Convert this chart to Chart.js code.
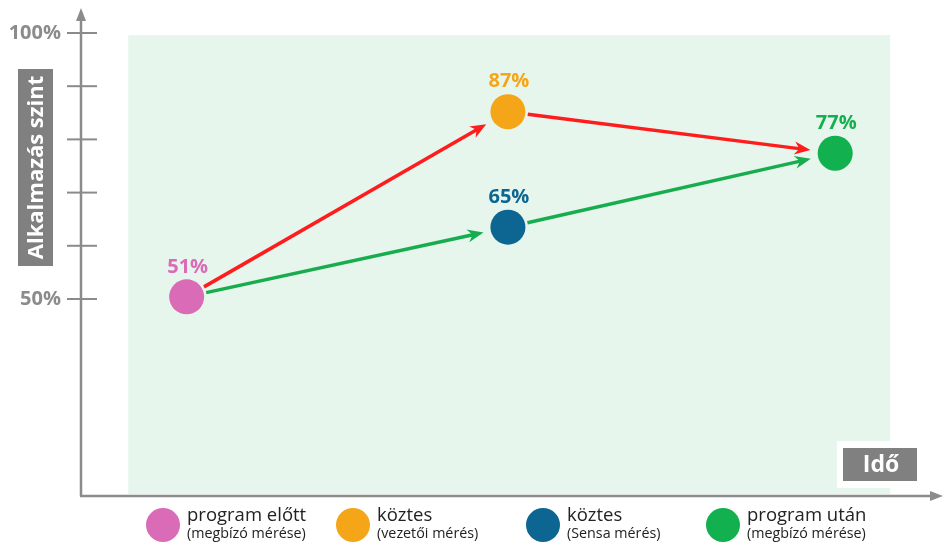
<!DOCTYPE html>
<html>
<head>
<meta charset="utf-8">
<script src="https://cdn.jsdelivr.net/npm/chart.js@4.4.1/dist/chart.umd.min.js"></script>
<style>
	html, body { margin: 0; padding: 0; background: #fff; }
	#wrap { width: 948px; height: 542px; }
</style>
</head>
<body>
<div id="wrap"><canvas id="levelChart" width="948" height="542"></canvas></div>
<script>
var pointTimes = [12.3, 49.7, 49.7, 87.8];
var pointLevels = [50.4, 85.2, 63.5, 77.4];
var pointLabels = ['51%', '87%', '65%', '77%'];
var pointColors = ['#d96bb7', '#f5a518', '#0d6591', '#12b04f'];

var legendTitles = ['program előtt', 'köztes', 'köztes', 'program után'];
var legendNotes = ['(megbízó mérése)', '(vezetői mérés)', '(Sensa mérés)', '(megbízó mérése)'];

var redArrows = [[0, 1], [1, 3]];
var greenArrows = [[0, 2], [2, 3]];

var yTickValues = [100, 90, 80, 70, 60, 50];
var yTickLabels = ['100%', '', '', '', '', '50%'];

var yTitle = 'Alkalmazás szint';
var xTitle = 'Idő';

var FONT = '"Open Sans", "DejaVu Sans", sans-serif';
var AXIS_GREY = '#8b8b8b';

function drawArrow(ctx, a, b, color, startGap, endGap) {
	var dx = b.x - a.x, dy = b.y - a.y;
	var len = Math.sqrt(dx * dx + dy * dy);
	var ux = dx / len, uy = dy / len;
	var nx = -uy, ny = ux;
	var sx = a.x + ux * startGap, sy = a.y + uy * startGap;
	var tx = b.x - ux * endGap, ty = b.y - uy * endGap;
	var head = 16, half = 6.5;
	ctx.save();
	ctx.strokeStyle = color;
	ctx.fillStyle = color;
	ctx.lineWidth = 3.5;
	ctx.beginPath();
	ctx.moveTo(sx, sy);
	ctx.lineTo(tx - ux * head * 0.6, ty - uy * head * 0.6);
	ctx.stroke();
	ctx.beginPath();
	ctx.moveTo(tx, ty);
	ctx.lineTo(tx - ux * head + nx * half, ty - uy * head + ny * half);
	ctx.lineTo(tx - ux * head * 0.7, ty - uy * head * 0.7);
	ctx.lineTo(tx - ux * head - nx * half, ty - uy * head - ny * half);
	ctx.closePath();
	ctx.fill();
	ctx.restore();
}

var schemePlugin = {
	id: 'scheme',
	beforeDatasetsDraw: function(chart) {
		var ctx = chart.ctx;
		var xs = chart.scales.x, ys = chart.scales.y;
		var area = chart.chartArea;

		// pale green plot field
		var left = xs.getPixelForValue(5.5), right = xs.getPixelForValue(94.2);
		var top = ys.getPixelForValue(99.6), bottom = ys.getPixelForValue(13.3);
		ctx.save();
		ctx.fillStyle = '#e7f6ed';
		ctx.fillRect(left, top, right - left, bottom - top);

		// box for the x title
		ctx.fillStyle = '#ffffff';
		ctx.fillRect(837, 441, 90, 47);
		ctx.fillStyle = '#808080';
		ctx.fillRect(843, 448, 74, 33);
		ctx.fillStyle = '#ffffff';
		ctx.font = 'bold 23px ' + FONT;
		ctx.textAlign = 'center';
		ctx.textBaseline = 'middle';
		ctx.fillText(xTitle, 881, 465);

		// y title box
		ctx.fillStyle = '#808080';
		ctx.fillRect(18, 69, 35, 197);
		ctx.translate(35.5, 167.5);
		ctx.rotate(-Math.PI / 2);
		ctx.fillStyle = '#ffffff';
		ctx.font = 'bold 22px ' + FONT;
		ctx.fillText(yTitle, 0, 1);
		ctx.restore();

		// axes
		var ax = area.left, ay = area.bottom;
		ctx.save();
		ctx.strokeStyle = AXIS_GREY;
		ctx.fillStyle = AXIS_GREY;
		ctx.lineWidth = 2.5;
		ctx.beginPath();
		ctx.moveTo(ax, ay);
		ctx.lineTo(ax, area.top + 8);
		ctx.moveTo(ax - 1, ay);
		ctx.lineTo(area.right - 8, ay);
		ctx.stroke();
		ctx.beginPath();
		ctx.moveTo(ax, area.top - 2);
		ctx.lineTo(ax - 5, area.top + 11);
		ctx.lineTo(ax + 5, area.top + 11);
		ctx.closePath();
		ctx.fill();
		ctx.beginPath();
		ctx.moveTo(area.right + 3, ay);
		ctx.lineTo(area.right - 10, ay - 5);
		ctx.lineTo(area.right - 10, ay + 5);
		ctx.closePath();
		ctx.fill();

		ctx.lineWidth = 2;
		ctx.font = 'bold 20px ' + FONT;
		ctx.textAlign = 'right';
		ctx.textBaseline = 'middle';
		yTickValues.forEach(function(v, i) {
			var py = ys.getPixelForValue(v);
			ctx.beginPath();
			ctx.moveTo(ax - 14, py);
			ctx.lineTo(ax + 16, py);
			ctx.stroke();
			if (yTickLabels[i]) {
				ctx.fillText(yTickLabels[i], ax - 20, py);
			}
		});
		ctx.restore();

		// arrows between measurements
		var pts = chart.getDatasetMeta(0).data;
		redArrows.forEach(function(p) {
			drawArrow(ctx, pts[p[0]], pts[p[1]], '#ff1c1c', 20, 25);
		});
		greenArrows.forEach(function(p) {
			drawArrow(ctx, pts[p[0]], pts[p[1]], '#17ad4e', 20, 25);
		});
	},
	afterDatasetsDraw: function(chart) {
		var ctx = chart.ctx;
		var pts = chart.getDatasetMeta(0).data;
		ctx.save();
		ctx.font = 'bold 20px ' + FONT;
		ctx.textAlign = 'center';
		ctx.textBaseline = 'middle';
		pts.forEach(function(pt, i) {
			ctx.fillStyle = pointColors[i];
			ctx.fillText(pointLabels[i], pt.x + 1, pt.y - 30);
		});
		ctx.restore();
	},
	afterDraw: function(chart) {
		var ctx = chart.ctx;
		var legendX = [163, 353, 543, 723];
		ctx.save();
		legendTitles.forEach(function(title, i) {
			var cx = legendX[i];
			ctx.fillStyle = pointColors[i];
			ctx.beginPath();
			ctx.arc(cx, 525, 17, 0, Math.PI * 2);
			ctx.fill();
			ctx.fillStyle = '#222222';
			ctx.textAlign = 'left';
			ctx.textBaseline = 'alphabetic';
			ctx.font = '18.5px ' + FONT;
			ctx.fillText(title, cx + 24, 521);
			ctx.font = '14.3px ' + FONT;
			ctx.fillText(legendNotes[i], cx + 24, 538);
		});
		ctx.restore();
	}
};

var ctx = document.getElementById('levelChart').getContext('2d');
var levelChart = new Chart(ctx, {
	type: 'scatter',
	data: {
		datasets: [{
			data: pointTimes.map(function(t, i) { return {x: t, y: pointLevels[i]}; }),
			backgroundColor: pointColors,
			borderColor: pointColors,
			pointRadius: 17.5,
			pointHoverRadius: 17.5,
			borderWidth: 0,
			showLine: false
		}]
	},
	options: {
		responsive: false,
		animation: false,
		events: [],
		layout: {autoPadding: false, padding: {left: 81, right: 8, top: 10, bottom: 46}},
		plugins: {legend: {display: false}, tooltip: {enabled: false}},
		scales: {
			x: {type: 'linear', display: false, min: 0, max: 100},
			y: {type: 'linear', display: false, min: 12.97, max: 104.32}
		}
	},
	plugins: [schemePlugin]
});
</script>
</body>
</html>
